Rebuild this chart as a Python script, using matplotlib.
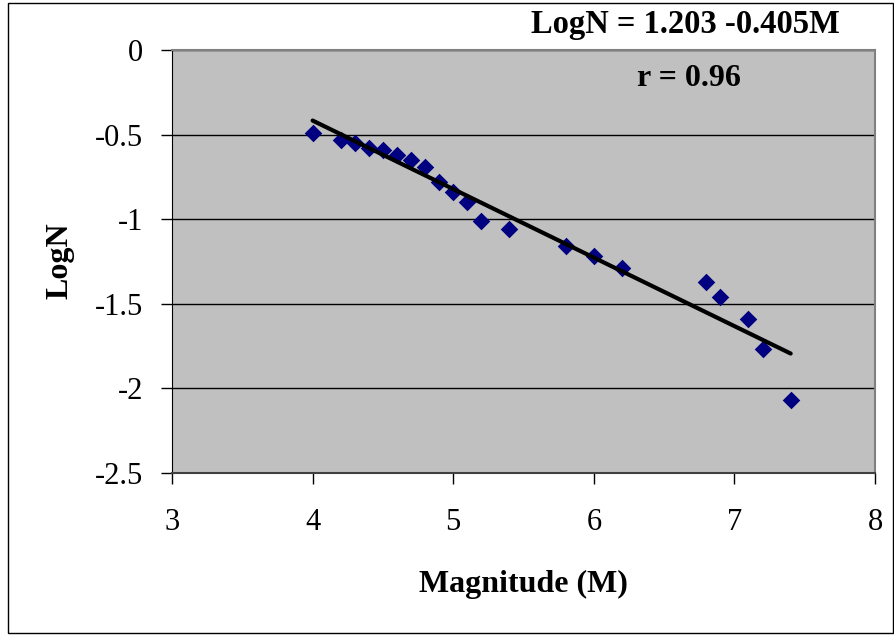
import numpy as np
import matplotlib
matplotlib.use("Agg")
import matplotlib.pyplot as plt
from matplotlib.patches import Rectangle

plt.rcParams['font.family'] = ['Liberation Serif', 'DejaVu Serif']

# data
magnitude = [4.0, 4.2, 4.3, 4.4, 4.5, 4.6, 4.7, 4.8, 4.9, 5.0, 5.1,
             5.2, 5.4, 5.8, 6.0, 6.2, 6.8, 6.9, 7.1, 7.2, 7.4]
log_n = [-0.49, -0.53, -0.55, -0.58, -0.59, -0.62, -0.65, -0.69, -0.78, -0.84, -0.90,
         -1.01, -1.06, -1.16, -1.22, -1.29, -1.37, -1.46, -1.59, -1.77, -2.07]
fit_a, fit_b = 1.203, -0.405
fit_range = [4.0, 7.4]
xticks = [3, 4, 5, 6, 7, 8]
yticks = [0, -0.5, -1, -1.5, -2, -2.5]
ytick_labels = ['0', '-0.5', '-1', '-1.5', '-2', '-2.5']

fig = plt.figure(figsize=(8.95, 6.36), dpi=100)
ax = fig.add_axes([0.1922, 0.2563, 0.7855, 0.6651])
ax.set_facecolor('#C0C0C0')

ax.scatter(magnitude, log_n, marker='D', s=80, color='#000080', zorder=3, linewidths=0)
fx = np.array(fit_range)
ax.plot(fx, fit_a + fit_b * fx, color='black', lw=3, zorder=4, solid_capstyle='round')

ax.set_xlim(3, 8)
ax.set_ylim(-2.5, 0)
ax.set_xticks(xticks)
ax.set_yticks(yticks)
ax.set_yticklabels(ytick_labels)
ax.grid(axis='y', color='black', lw=1)
ax.set_axisbelow(True)

for s in ['top', 'right']:
    ax.spines[s].set_color('#808080')
    ax.spines[s].set_linewidth(1.5)
ax.spines['left'].set_color('black')
ax.spines['bottom'].set_color('#404040')
ax.spines['bottom'].set_linewidth(1.5)
ax.tick_params(direction='out', length=8, width=1, labelsize=22)
ax.tick_params(axis='y', pad=13)
ax.tick_params(axis='x', pad=17)

ax.set_xlabel('Magnitude (M)', fontsize=23, fontweight='bold', labelpad=24)
fig.text(60 / 895, 1 - 261 / 636, 'LogN', fontsize=23, fontweight='bold',
         rotation=90, ha='center', va='center')

ax.text(0.7297, 1.040, 'LogN = 1.203 -0.405M', transform=ax.transAxes,
        fontsize=23.5, fontweight='bold', ha='center', va='baseline')
ax.text(0.7354, 0.915, 'r = 0.96', transform=ax.transAxes,
        fontsize=23, fontweight='bold', ha='center', va='baseline')

fig.patches.append(Rectangle((8 / 895, 3 / 636), 885 / 895, 630 / 636,
                             transform=fig.transFigure, fill=False,
                             edgecolor='black', lw=1))

fig.savefig('out.png', dpi=100)
